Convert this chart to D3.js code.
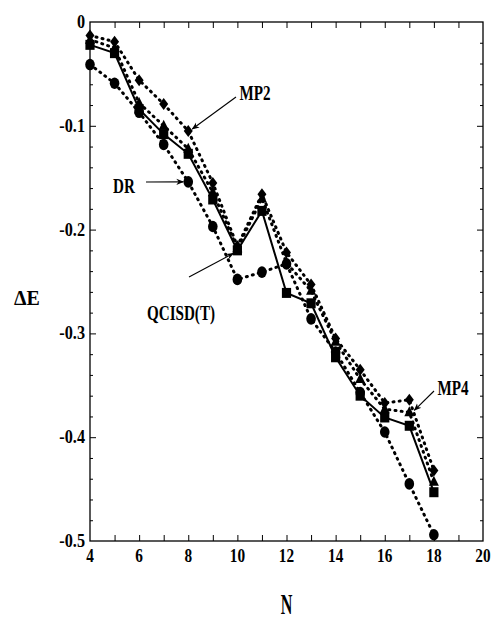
<!DOCTYPE html>
<html>
<head>
<meta charset="utf-8">
<script src="https://cdn.jsdelivr.net/npm/d3@7/dist/d3.min.js"></script>
<style>
  html, body { margin: 0; padding: 0; background: #fff; }
  svg { display: block; }
  text { font-family: "Liberation Serif", "Times New Roman", serif; font-weight: bold; fill: #000; }
</style>
</head>
<body>
<svg id="chart" width="494" height="622"></svg>
<script>
// Cluster size N and correlation energy differences for each method
const N = [4, 5, 6, 7, 8, 9, 10, 11, 12, 13, 14, 15, 16, 17, 18];
const mp2 = [-0.013, -0.019, -0.056, -0.079, -0.105, -0.155, -0.216, -0.166, -0.222, -0.253, -0.305, -0.335, -0.367, -0.364, -0.432];
const mp4 = [-0.017, -0.025, -0.078, -0.100, -0.122, -0.164, -0.218, -0.170, -0.232, -0.259, -0.308, -0.344, -0.373, -0.376, -0.443];
const qcisdt = [-0.022, -0.030, -0.084, -0.108, -0.127, -0.171, -0.220, -0.182, -0.261, -0.271, -0.323, -0.360, -0.381, -0.389, -0.453];
const dr = [-0.041, -0.059, -0.087, -0.118, -0.154, -0.197, -0.248, -0.241, -0.233, -0.286, -0.318, -0.357, -0.395, -0.445, -0.494];

const xTicks = [4, 6, 8, 10, 12, 14, 16, 18, 20];
const yTicks = [0, -0.1, -0.2, -0.3, -0.4, -0.5];
const yTickLabels = ["0", "-0.1", "-0.2", "-0.3", "-0.4", "-0.5"];

const svg = d3.select("#chart");
const m = { left: 90, right: 483, top: 22, bottom: 541 };

const x = d3.scaleLinear().domain([4, 20]).range([m.left, m.right]);
const y = d3.scaleLinear().domain([-0.5, 0]).range([m.bottom, m.top]);

// condensed bold serif label helper
function label(txt, px, py, size, sx, anchor, sy) {
  svg.append("text")
    .attr("transform", `translate(${px},${py}) scale(${sx},${sy || 1})`)
    .attr("text-anchor", anchor || "middle")
    .style("font-size", size + "px")
    .text(txt);
}

// frame
svg.append("rect")
  .attr("x", m.left).attr("y", m.top)
  .attr("width", m.right - m.left).attr("height", m.bottom - m.top)
  .attr("fill", "none").attr("stroke", "#000").attr("stroke-width", 1.3);

// inward ticks on all four sides
const xMinor = d3.range(5, 20, 1);
const yMinor = d3.range(-0.48, 0, 0.02).filter(v => Math.abs(Math.round(v * 10) - v * 10) > 1e-6);

function styleAxis(g) {
  g.select(".domain").remove();
  g.selectAll("line").attr("stroke", "#000").attr("stroke-width", 1);
  g.selectAll("text").remove();
}
svg.append("g").attr("transform", `translate(0,${m.bottom})`)
  .call(d3.axisBottom(x).tickValues(xMinor).tickSize(-6)).call(styleAxis);
svg.append("g").attr("transform", `translate(0,${m.top})`)
  .call(d3.axisTop(x).tickValues(xMinor).tickSize(-6)).call(styleAxis);
svg.append("g").attr("transform", `translate(${m.left},0)`)
  .call(d3.axisLeft(y).tickValues(yTicks.slice(1, 5)).tickSize(-6)).call(styleAxis);
svg.append("g").attr("transform", `translate(${m.left},0)`)
  .call(d3.axisLeft(y).tickValues(yMinor).tickSize(-3)).call(styleAxis);
svg.append("g").attr("transform", `translate(${m.right},0)`)
  .call(d3.axisRight(y).tickValues(yTicks.slice(1, 5)).tickSize(-6)).call(styleAxis);
svg.append("g").attr("transform", `translate(${m.right},0)`)
  .call(d3.axisRight(y).tickValues(yMinor).tickSize(-3)).call(styleAxis);

// tick labels
xTicks.forEach(v => label(String(v), x(v), m.bottom + 21, 18, 0.85, "middle", 1.05));
yTicks.forEach((v, i) => label(yTickLabels[i], m.left - 5, y(v) + 6, 18, 0.9, "end", 1.05));

// axis titles
label("\u0394E", 27, 305, 21, 0.95, "middle");
label("N", x(12), 614, 26, 0.62, "middle", 1.15);

// series
const dotted = { dash: "1,5.2", width: 3 };
const series = [
  { name: "DR", vals: dr, sym: "circle", dashed: true },
  { name: "MP2", vals: mp2, sym: "diamond", dashed: true },
  { name: "MP4", vals: mp4, sym: "triangle", dashed: true },
  { name: "QCISD(T)", vals: qcisdt, sym: "square", dashed: false }
];

const line = d3.line().x((d, i) => x(N[i])).y(d => y(d));

series.forEach(s => {
  const p = svg.append("path").datum(s.vals)
    .attr("d", line).attr("fill", "none").attr("stroke", "#000");
  if (s.dashed) {
    p.attr("stroke-width", dotted.width).attr("stroke-dasharray", dotted.dash).attr("stroke-linecap", "round");
  } else {
    p.attr("stroke-width", 2);
  }
});

series.forEach(s => {
  const g = svg.append("g");
  s.vals.forEach((v, i) => {
    const cx = x(N[i]), cy = y(v);
    if (s.sym === "circle") {
      g.append("ellipse").attr("cx", cx).attr("cy", cy).attr("rx", 4.8).attr("ry", 5.8);
    } else if (s.sym === "square") {
      g.append("rect").attr("x", cx - 4.6).attr("y", cy - 5).attr("width", 9.2).attr("height", 10);
    } else if (s.sym === "diamond") {
      g.append("path").attr("d", `M${cx},${cy - 6}L${cx + 4.5},${cy}L${cx},${cy + 6}L${cx - 4.5},${cy}Z`);
    } else {
      g.append("path").attr("d", `M${cx},${cy - 6}L${cx + 5},${cy + 4}L${cx - 5},${cy + 4}Z`);
    }
  });
  g.attr("fill", "#000");
});

// annotation arrows pointing at data points
svg.append("defs").append("marker")
  .attr("id", "ah").attr("viewBox", "0 0 10 10").attr("refX", 9).attr("refY", 5)
  .attr("markerWidth", 7).attr("markerHeight", 7).attr("orient", "auto")
  .append("path").attr("d", "M0,1L10,5L0,9L3,5Z").attr("fill", "#000");

function arrow(x1, y1, x2, y2) {
  svg.append("line").attr("x1", x1).attr("y1", y1).attr("x2", x2).attr("y2", y2)
    .attr("stroke", "#000").attr("stroke-width", 1.1).attr("marker-end", "url(#ah)");
}

// MP2 -> diamond at N=8
label("MP2", 255, 100, 21, 0.72, "middle");
arrow(236, 97, x(8) + 4, y(mp2[4]) - 2);
// DR -> circle at N=8
label("DR", 124, 193, 21, 0.72, "middle");
arrow(146, 182, x(8) - 5, y(dr[4]));
// QCISD(T) -> square at N=10
label("QCISD(T)", 181, 320, 21, 0.72, "middle");
arrow(189, 277, x(10) - 4, y(qcisdt[6]) + 3);
// MP4 -> triangle at N=17
label("MP4", 453, 395, 21, 0.72, "middle");
arrow(434, 391, x(17) + 5, y(mp4[13]) - 2);
</script>
</body>
</html>
